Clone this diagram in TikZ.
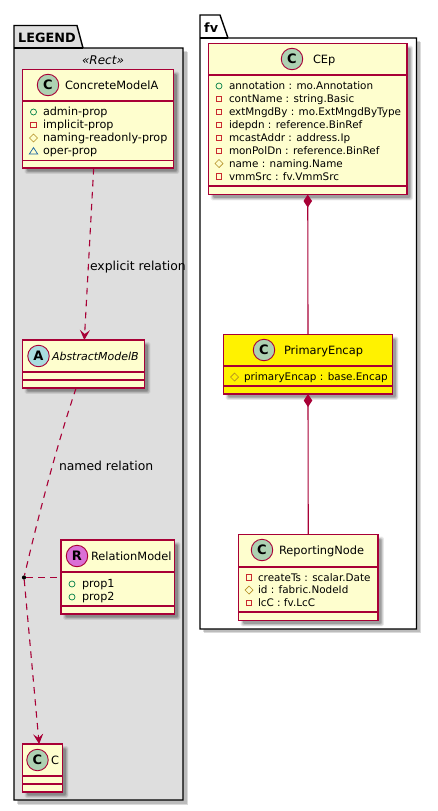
\documentclass[tikz,border=0pt]{standalone}
\usepackage{fontspec}
\setmainfont{DejaVu Sans}
\usetikzlibrary{arrows.meta}
\definecolor{umlborder}{HTML}{A80036}
\definecolor{umlfill}{HTML}{FEFECE}
\definecolor{umlc}{HTML}{ADD1B2}
\definecolor{umla}{HTML}{A9DCDF}
\definecolor{umlr}{HTML}{DA70D6}
\definecolor{icplus}{HTML}{038048}
\definecolor{icminus}{HTML}{C82930}
\definecolor{ichash}{HTML}{B38D22}
\definecolor{ictri}{HTML}{1963A0}
\tikzset{
  x=1pt,y=-1pt,
  classbox/.style={draw=umlborder,line width=1.4pt,inner sep=0pt,outer sep=0pt,rectangle},
  divider/.style={draw=umlborder,line width=1.2pt},
  pkg/.style={draw=black,line width=1.4pt,line join=miter},
  namelabel/.style={inner sep=0pt,outer sep=0pt,anchor=base west,font=\fontsize{11.4}{13}\selectfont},
  attrlabel/.style={inner sep=0pt,outer sep=0pt,anchor=base west,font=\fontsize{10.4}{12}\selectfont},
  legattr/.style={attrlabel,font=\fontsize{11.2}{13}\selectfont},
  relabel/.style={inner sep=0pt,outer sep=0pt,anchor=base west,font=\fontsize{12.4}{14}\selectfont},
  spot/.style={circle,draw=umlborder,line width=0.9pt,minimum size=21.5pt,inner sep=0pt,outer sep=0pt,font=\fontsize{13}{14}\bfseries\selectfont},
  conn/.style={draw=umlborder,line width=1.1pt},
  dashconn/.style={conn,dash pattern=on 6.5pt off 5.5pt},
  opentip/.style={-{Stealth[length=10pt,width=10pt,inset=4pt,umlborder]}},
  diamtip/.style={{Diamond[length=13pt,width=8.5pt,umlborder]}-},
  dotnode/.style={circle,fill=black,minimum size=4.2pt,inner sep=0pt,outer sep=0pt},
}
% soft shadow of a rectangle
\newcommand{\softshadow}[4]{%
  \foreach \e/\o in {1.8/.08,1.0/.10,0.2/.12,-0.6/.14}{%
    \fill[black,opacity=\o,rounded corners=1.5pt]
      ({#1+4-\e},{#2+4-\e}) rectangle ({#3+4+\e},{#4+4+\e});}}
% name, x1,y1,x2,y2,fill,div1,div2
\newcommand{\umlclass}[8]{%
  \softshadow{#2}{#3}{#4}{#5}
  \node[classbox,fill=#6,minimum width={#4-#2},minimum height={#5-#3}] (#1) at ({(#2+#4)/2},{(#3+#5)/2}) {};
  \draw[divider] (#2,#7) -- (#4,#7);
  \draw[divider] (#2,#8) -- (#4,#8);
}
\newcommand{\icplus}[2]{\draw[icplus,line width=0.7pt] (#1,#2) circle (3pt);}
\newcommand{\icminus}[2]{\draw[icminus,line width=0.8pt] ({#1-2.8},{#2-2.8}) rectangle ({#1+2.8},{#2+2.8});}
\newcommand{\ichash}[2]{\draw[ichash,line width=0.7pt] ({#1-4},#2) -- (#1,{#2-4}) -- ({#1+4},#2) -- (#1,{#2+4}) -- cycle;}
\newcommand{\ictri}[2]{\draw[ictri,line width=0.7pt] ({#1-4.2},{#2+3}) -- (#1,{#2-3.4}) -- ({#1+4.2},{#2+3}) -- cycle;}
\begin{document}
\begin{tikzpicture}
\useasboundingbox (0,0) rectangle (437,811);
% LEGEND package
\fill[black,opacity=.14] (18,52) rectangle (188,805);
\fill[black,opacity=.14] (17,51) rectangle (187,804);
\draw[pkg,fill=white!87!black] (14,48) -- (14,25.5) -- (77,25.5) -- (83,48) -- (183,48) -- (183,800) -- (14,800) -- cycle;
\draw[pkg] (14,48) -- (83,48);
\node[inner sep=0pt,anchor=base west,font=\fontsize{12.8}{14}\bfseries\selectfont] (legendtitle) at (18,42) {LEGEND};
\node[inner sep=0pt,anchor=base,font=\fontsize{12}{14}\itshape\selectfont] (recttitle) at (103,64) {«Rect»};
% fv package
\fill[black,opacity=.14] (204,42) rectangle (421,633);
\fill[black,opacity=.14] (203,41) rectangle (420,632);
\draw[pkg,fill=white] (200,38) -- (200,15) -- (220,15) -- (228,38) -- (416.5,38) -- (416.5,629) -- (200,629) -- cycle;
\draw[pkg] (200,38) -- (228,38);
\node[inner sep=0pt,anchor=base west,font=\fontsize{12.8}{14}\bfseries\selectfont] (fvtitle) at (204,32) {fv};
% ConcreteModelA
\umlclass{cc}{22.5}{69.5}{173.5}{168}{umlfill}{101}{160.7}
\node[spot,fill=umlc] (cms) at (48,85) {C};
\node[namelabel] (ccname) at (65,89) {ConcreteModelA};
\icplus{33.5}{112}\node[legattr] (cca) at (43,115.5) {admin-prop};
\icminus{33.5}{125}\node[legattr] (ccb) at (43,128.5) {implicit-prop};
\ichash{33.5}{138}\node[legattr] (ccc) at (43,141.5) {naming-readonly-prop};
\ictri{33.5}{151}\node[legattr] (ccd) at (43,154.5) {oper-prop};
% AbstractModelB
\umlclass{ab}{22.5}{340}{144.5}{388}{umlfill}{372}{380}
\node[spot,fill=umla] (abs) at (38.5,356) {A};
\node[namelabel,font=\fontsize{11}{13}\itshape\selectfont] (abname) at (52,360) {AbstractModelB};
% RelationModel
\umlclass{rm}{61}{540}{174.5}{614}{umlfill}{572}{606}
\node[spot,fill=umlr] (rms) at (77,556) {R};
\node[namelabel] (rmname) at (91,560) {RelationModel};
\icplus{72}{584}\node[legattr] (rma) at (82,587.5) {prop1};
\icplus{72}{597}\node[legattr] (rmb) at (82,600.5) {prop2};
% C
\umlclass{cl}{22.5}{744}{62.5}{792}{umlfill}{776}{784}
\node[spot,fill=umlc] (cls) at (37.5,760) {C};
\node[namelabel] (clname) at (51,764) {C};
% CEp
\umlclass{cep}{208.5}{43.5}{407}{194.5}{umlfill}{75}{186}
\node[spot,fill=umlc] (ceps) at (292,59) {C};
\node[namelabel] (cepname) at (313,63) {CEp};
\icplus{219}{86}\node[attrlabel] (cepa) at (229,89.5) {annotation : mo.Annotation};
\icminus{219}{99}\node[attrlabel] (cepb) at (229,102.5) {contName : string.Basic};
\icminus{219}{112}\node[attrlabel] (cepc) at (229,115.5) {extMngdBy : mo.ExtMngdByType};
\icminus{219}{125}\node[attrlabel] (cepd) at (229,128.5) {idepdn : reference.BinRef};
\icminus{219}{138}\node[attrlabel] (cepe) at (229,141.5) {mcastAddr : address.Ip};
\icminus{219}{151}\node[attrlabel] (cepf) at (229,154.5) {monPolDn : reference.BinRef};
\ichash{219}{163.5}\node[attrlabel] (cepg) at (229,167) {name : naming.Name};
\icminus{219}{176.5}\node[attrlabel] (ceph) at (229,180) {vmmSrc : fv.VmmSrc};
% PrimaryEncap
\umlclass{pe}{223.5}{334.5}{392.5}{394}{yellow}{366}{386}
\node[spot,fill=umlc] (pes) at (264,350) {C};
\node[namelabel] (pename) at (284,354) {PrimaryEncap};
\ichash{234.5}{377}\node[attrlabel] (pea) at (244,380.5) {primaryEncap : base.Encap};
% ReportingNode
\umlclass{rn}{238.5}{534.5}{378}{620.5}{umlfill}{567}{612}
\node[spot,fill=umlc] (rns) at (262,550) {C};
\node[namelabel] (rnname) at (279,554) {ReportingNode};
\icminus{249}{577.5}\node[attrlabel] (rna) at (258,581) {createTs : scalar.Date};
\ichash{249}{590}\node[attrlabel] (rnb) at (258,593.5) {id : fabric.NodeId};
\icminus{249}{603}\node[attrlabel] (rnc) at (258,606.5) {lcC : fv.LcC};
% connectors
\node[dotnode] (dot) at (24,577.5) {};
\draw[dashconn,opentip] (cc.265) -- (ab.88);
\draw[dashconn] (ab.253) .. controls (55,450) and (35,530) .. (dot);
\draw[dashconn,opentip] (dot) -- (cl.98);
\draw[dashconn,line width=0.9pt] (dot) -- (dot -| rm.west);
\draw[conn,diamtip] (cep.south) -- (pe.north);
\draw[conn,diamtip] (pe.south) -- (rn.north);
\node[relabel] (lblexp) at (90,270.5) {explicit relation};
\node[relabel] (lblnam) at (59,470.5) {named relation};
\end{tikzpicture}
\end{document}
